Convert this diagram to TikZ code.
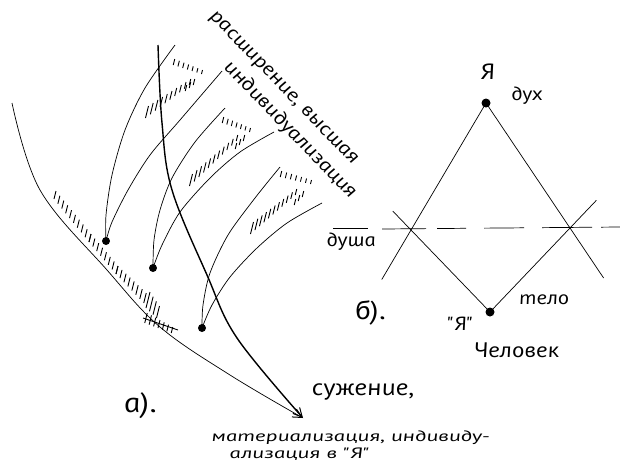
\documentclass[tikz,border=0pt]{standalone}
\usepackage{fontspec}
\setmainfont{PT Sans}
\newfontfamily\hand{PT Sans Italic}[FakeStretch=1.2]
\newfontfamily\handwide{PT Sans Italic}[FakeStretch=1.55]
\usetikzlibrary{calc,arrows.meta}
\newcommand{\hatchrow}[5]{\foreach \i in {0,...,#3}{\pgfmathsetmacro{\hlen}{#4+(#5-#4)*\i/#3}\draw[hatch] ($(#1)!\i/#3!(#2)$) ++(-0.25*\hlen,\hlen) -- ++(0.5*\hlen,-2*\hlen);}}
\begin{document}
\begin{tikzpicture}[x=1pt,y=-1pt,
  thin/.style={line width=0.7pt},
  thickc/.style={line width=1.4pt},
  hatch/.style={line width=0.9pt},
  dot/.style={circle,fill,inner sep=0pt,minimum size=8pt},
  lbl/.style={font=\hand\fontsize{19}{20}\selectfont,inner sep=0pt,xslant=-0.2},
  rot/.style={font=\hand\fontsize{19.5}{20}\selectfont,inner sep=0pt,rotate=-46,xslant=-0.2},
  small/.style={font=\handwide\fontsize{15}{16}\selectfont,inner sep=0pt,xslant=-0.2},
  barb/.style={-{Straight Barb[length=9pt,width=9pt,line width=1pt]}}]
\useasboundingbox (0,0) rectangle (620,464);
\fill[white] (0,0) rectangle (620,464);
% ---- a) ----
\coordinate (tip) at (303,418);
\draw[thin,barb] plot[smooth,tension=0.6] coordinates {(12,103) (40,190) (107,270) (160,327) (230,375) (tip)};
\draw[thickc,barb] plot[smooth,tension=0.6] coordinates {(158,45) (162,123) (172,190) (207,275) (237,338) (tip)};
\node[dot] (d1) at (106,241) {};
\node[dot] (d2) at (153,268) {};
\node[dot] (d3) at (202,328) {};
\draw[thin] plot[smooth] coordinates {(d1.center) (106,215) (112,175) (125,130) (145,88) (175,45)};
\draw[thin] plot[smooth] coordinates {(d1.center) (112,222) (128,190) (150,155) (180,120) (222,71)};
\draw[thin] plot[smooth] coordinates {(d2.center) (154,240) (160,210) (172,178) (195,142) (225,108)};
\draw[thin] plot[smooth] coordinates {(d2.center) (162,245) (180,212) (210,178) (240,152) (274,132)};
\draw[thin] plot[smooth] coordinates {(d3.center) (203,305) (210,273) (228,235) (255,198) (280,167)};
\draw[thin] plot[smooth] coordinates {(d3.center) (212,305) (230,277) (257,248) (287,223) (322,203)};
% hatching
\hatchrow{147,112}{190,82}{9}{6}{3}
\hatchrow{174,62}{202,72}{6}{3}{2}
\hatchrow{186,88}{194,82}{2}{3}{3}
\hatchrow{191,180}{237,138}{10}{6}{3}
\hatchrow{223,120}{250,130}{6}{3}{2}
\hatchrow{236,146}{244,138}{2}{3}{3}
\hatchrow{252,228}{296,192}{10}{6}{3}
\hatchrow{281,174}{311,182}{6}{3}{2}
\hatchrow{295,202}{303,194}{2}{3}{3}
\hatchrow{55,195}{90,238}{9}{4}{4}
\hatchrow{90,238}{117,270}{7}{4}{4}
\hatchrow{117,270}{145,298}{7}{4}{5}
\hatchrow{148,300}{158,312}{3}{8}{6}
\hatchrow{146,318}{172,330}{6}{5}{3}
\draw[hatch] (143,318) -- (178,330);
\node[rot] (rasw) at (283,89) {расширение, высшая};
\node[rot] (indiv) at (290,130) {индивидуализация};
\node[lbl,font=\hand\fontsize{23}{24}\selectfont] (suzh) at (363,392) {сужение,};
\node[lbl,font=\hand\fontsize{28}{30}\selectfont] (a) at (140,406) {а).};
\node[small,anchor=base west] (mat1) at (212,441) {материализация, индивиду-};
\node[small,anchor=base west] (mat2) at (230,458) {ализация в "Я"};
% ---- b) ----
\node[dot,minimum size=9pt] (top) at (486,103) {};
\node[dot,minimum size=9pt] (bot) at (490,312) {};
\coordinate (cl) at (411,230);
\coordinate (cr) at (570,228);
\draw[thin] (top.center) -- ($(top.center)!1.39!(cl)$);
\draw[thin] (top.center) -- ($(top.center)!1.40!(cr)$);
\draw[thin] (bot.center) -- ($(bot.center)!1.23!(cl)$);
\draw[thin] (bot.center) -- ($(bot.center)!1.33!(cr)$);
\coordinate (dl) at (382,229);
\coordinate (dr) at (620,227);
\draw[thin,dash pattern=on 44pt off 11pt on 29pt off 18pt on 40pt off 18pt on 50pt off 9pt on 30pt] (dl) -- (dr);
\node[lbl] (soul) at (351,242) {душа};
\draw[thin] (333,228) -- (368,228);
\node[lbl,font=\hand\fontsize{22}{24}\selectfont] (ya) at (487,72) {Я};
\node[lbl] (dukh) at (527,96) {дух};
\node[lbl] (telo) at (544,300) {тело};
\node[lbl,font=\hand\fontsize{26}{28}\selectfont] (b) at (370,313) {б).};
\node[lbl] (yaq) at (460,324) {"Я"};
\node[lbl,font=\hand\fontsize{21}{22}\selectfont] (chel) at (516,350) {Человек};
\end{tikzpicture}
\end{document}
